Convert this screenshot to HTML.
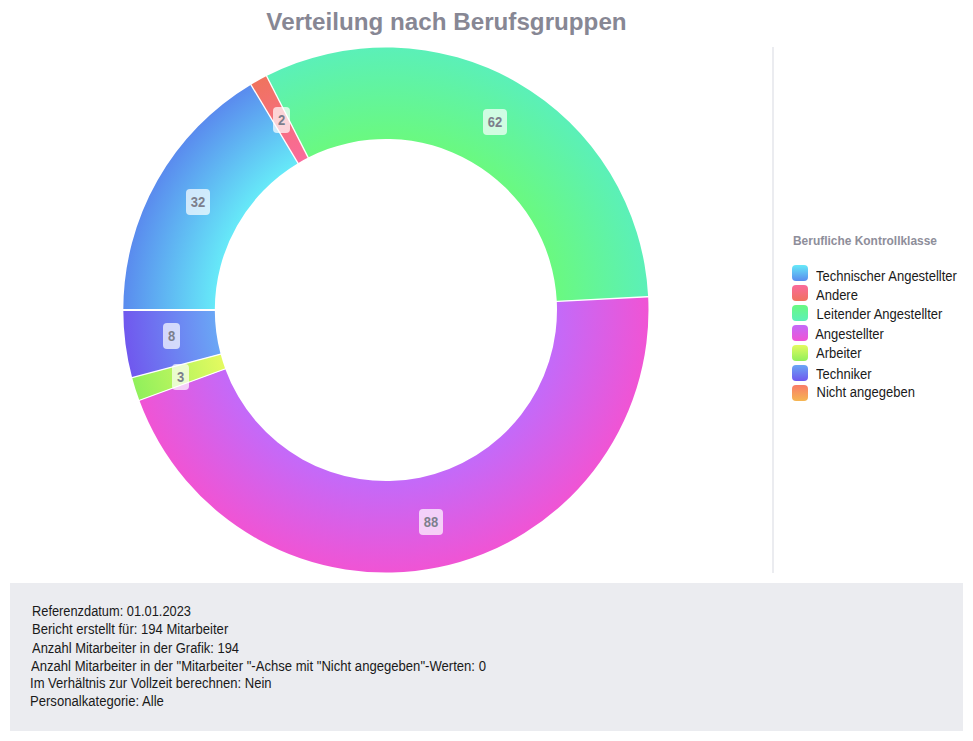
<!DOCTYPE html>
<html><head><meta charset="utf-8"><style>
html,body{margin:0;padding:0;background:#fff;width:973px;height:741px;overflow:hidden;position:relative;font-family:"Liberation Sans",sans-serif}
.title{position:absolute;left:0;top:8px;width:893px;text-align:center;font-weight:bold;font-size:24px;line-height:28px;color:#878794;white-space:nowrap;transform:scaleX(1.008);transform-origin:446px 0}
.donut{position:absolute;left:0;top:0}
.lbl{font-family:"Liberation Sans",sans-serif;font-weight:bold;font-size:13px;fill:#7C7F8C}
.vline{position:absolute;left:772px;top:47px;width:2px;height:526px;background:#EBECF0}
.ltitle{position:absolute;left:793px;top:231px;font-weight:bold;font-size:12px;line-height:20px;color:#8E8E9A;white-space:nowrap;transform:scale(0.995,1.1);transform-origin:0 14px}
.sw{position:absolute;left:792px;width:16px;height:16px;border-radius:4px}
.lt{position:absolute;left:816px;font-size:13px;line-height:20px;color:#1a1a1a;white-space:nowrap;transform:scaleY(1.06);transform-origin:0 14px}
.info{position:absolute;left:10px;top:583px;width:953px;height:148px;background:#EBECF0}
.il{position:absolute;font-size:13px;line-height:20px;color:#1a1a1a;white-space:nowrap;transform-origin:0 14px}
</style></head><body>
<div class="title">Verteilung nach Berufsgruppen</div>
<svg class="donut" width="973" height="741" viewBox="0 0 973 741">
<defs><radialGradient id="g0" gradientUnits="userSpaceOnUse" cx="385.9" cy="310.0" r="262.6"><stop offset="0.6516" stop-color="#66E9F8"/><stop offset="1" stop-color="#5A8BEE"/></radialGradient><radialGradient id="g1" gradientUnits="userSpaceOnUse" cx="385.9" cy="310.0" r="262.6"><stop offset="0.6516" stop-color="#FA6A9C"/><stop offset="1" stop-color="#F0735E"/></radialGradient><radialGradient id="g2" gradientUnits="userSpaceOnUse" cx="385.9" cy="310.0" r="262.6"><stop offset="0.6516" stop-color="#6AF980"/><stop offset="1" stop-color="#5BF0B8"/></radialGradient><radialGradient id="g3" gradientUnits="userSpaceOnUse" cx="385.9" cy="310.0" r="262.6"><stop offset="0.6516" stop-color="#C36AF9"/><stop offset="1" stop-color="#F054D4"/></radialGradient><radialGradient id="g4" gradientUnits="userSpaceOnUse" cx="385.9" cy="310.0" r="262.6"><stop offset="0.6516" stop-color="#E4FA60"/><stop offset="1" stop-color="#90F05C"/></radialGradient><radialGradient id="g5" gradientUnits="userSpaceOnUse" cx="385.9" cy="310.0" r="262.6"><stop offset="0.6516" stop-color="#6AA6F5"/><stop offset="1" stop-color="#7058EE"/></radialGradient></defs>
<path d="M123.30,310.00A262.6,262.6 0 0 1 250.95,84.73L297.97,163.22A171.1,171.1 0 0 0 214.80,310.00Z" fill="url(#g0)"/>
<path d="M250.95,84.73A262.6,262.6 0 0 1 266.60,76.06L308.17,157.58A171.1,171.1 0 0 0 297.97,163.22Z" fill="url(#g1)"/>
<path d="M266.60,76.06A262.6,262.6 0 0 1 648.16,296.72L556.78,301.35A171.1,171.1 0 0 0 308.17,157.58Z" fill="url(#g2)"/>
<path d="M648.16,296.72A262.6,262.6 0 0 1 139.34,400.36L225.25,368.88A171.1,171.1 0 0 0 556.78,301.35Z" fill="url(#g3)"/>
<path d="M139.34,400.36A262.6,262.6 0 0 1 132.16,377.65L220.58,354.08A171.1,171.1 0 0 0 225.25,368.88Z" fill="url(#g4)"/>
<path d="M132.16,377.65A262.6,262.6 0 0 1 123.30,310.00L214.80,310.00A171.1,171.1 0 0 0 220.58,354.08Z" fill="url(#g5)"/>
<rect x="110" y="309" width="120" height="2" fill="#fff"/>
<line x1="300.03" y1="166.65" x2="248.90" y2="81.30" stroke="#fff" stroke-width="1.3"/>
<line x1="309.98" y1="161.14" x2="264.78" y2="72.50" stroke="#fff" stroke-width="1.3"/>
<line x1="552.79" y1="301.55" x2="652.16" y2="296.52" stroke="#fff" stroke-width="1.3"/>
<line x1="229.01" y1="367.50" x2="135.58" y2="401.74" stroke="#fff" stroke-width="1.3"/>
<line x1="224.44" y1="353.05" x2="128.30" y2="378.68" stroke="#fff" stroke-width="1.3"/>
<rect x="186" y="189" width="24" height="26" rx="4" fill="#fff" fill-opacity="0.7"/>
<text transform="translate(198.00,207) scale(1,1.1)" text-anchor="middle" class="lbl">32</text>
<rect x="273" y="107" width="17" height="26" rx="4" fill="#fff" fill-opacity="0.7"/>
<text transform="translate(281.50,125) scale(1,1.1)" text-anchor="middle" class="lbl">2</text>
<rect x="483" y="109" width="24" height="26" rx="4" fill="#fff" fill-opacity="0.7"/>
<text transform="translate(495.00,127) scale(1,1.1)" text-anchor="middle" class="lbl">62</text>
<rect x="419" y="509" width="24" height="26" rx="4" fill="#fff" fill-opacity="0.7"/>
<text transform="translate(431.00,527) scale(1,1.1)" text-anchor="middle" class="lbl">88</text>
<rect x="172" y="364" width="17" height="26" rx="4" fill="#fff" fill-opacity="0.7"/>
<text transform="translate(180.50,382) scale(1,1.1)" text-anchor="middle" class="lbl">3</text>
<rect x="163" y="323" width="17" height="26" rx="4" fill="#fff" fill-opacity="0.7"/>
<text transform="translate(171.50,341) scale(1,1.1)" text-anchor="middle" class="lbl">8</text>
</svg>
<div class="vline"></div>
<div class="ltitle">Berufliche Kontrollklasse</div>
<div class="sw" style="top:265px;background:linear-gradient(#66E9F8,#5A8BEE)"></div>
<div class="lt" style="top:267.0px;left:816px">Technischer Angestellter</div>
<div class="sw" style="top:285px;background:linear-gradient(#FA6A9C,#F0735E)"></div>
<div class="lt" style="top:286.0px;left:816px">Andere</div>
<div class="sw" style="top:305px;background:linear-gradient(#6AF980,#5BF0B8)"></div>
<div class="lt" style="top:305.4px;left:816.6px">Leitender Angestellter</div>
<div class="sw" style="top:325px;background:linear-gradient(#C36AF9,#F054D4)"></div>
<div class="lt" style="top:325.3px;left:815.2px">Angestellter</div>
<div class="sw" style="top:345px;background:linear-gradient(#E4FA60,#90F05C)"></div>
<div class="lt" style="top:344.2px;left:816px">Arbeiter</div>
<div class="sw" style="top:365px;background:linear-gradient(#6AA6F5,#7058EE)"></div>
<div class="lt" style="top:365.0px;left:816px">Techniker</div>
<div class="sw" style="top:385px;background:linear-gradient(#F97C69,#F5B652)"></div>
<div class="lt" style="top:383.0px;left:816.6px">Nicht angegeben</div>
<div class="info"></div>
<div class="il" style="top:602.0px;left:32.4px;transform:scale(0.986,1.06)">Referenzdatum: 01.01.2023</div>
<div class="il" style="top:620.0px;left:31.7px;transform:scale(1.006,1.06)">Bericht erstellt für: 194 Mitarbeiter</div>
<div class="il" style="top:638.5px;left:32.2px;transform:scale(0.995,1.06)">Anzahl Mitarbeiter in der Grafik: 194</div>
<div class="il" style="top:656.7px;left:31px;transform:scale(1.007,1.06)">Anzahl Mitarbeiter in der &quot;Mitarbeiter &quot;-Achse mit &quot;Nicht angegeben&quot;-Werten: 0</div>
<div class="il" style="top:674.0px;left:30.4px;transform:scale(1.004,1.06)">Im Verhältnis zur Vollzeit berechnen: Nein</div>
<div class="il" style="top:692.0px;left:30.4px;transform:scale(1.007,1.06)">Personalkategorie: Alle</div>
</body></html>
